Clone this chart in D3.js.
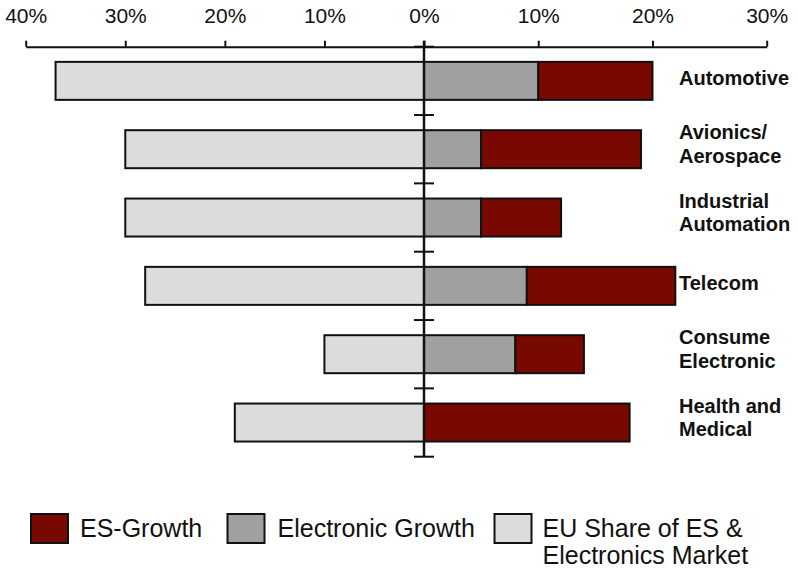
<!DOCTYPE html>
<html>
<head>
<meta charset="utf-8">
<script src="https://cdn.jsdelivr.net/npm/d3@7/dist/d3.min.js"></script>
<style>
  html, body { margin: 0; padding: 0; background: #fff; }
  svg { display: block; font-family: "Liberation Sans", Arial, Helvetica, sans-serif; }
</style>
</head>
<body>
<svg id="chart" width="798" height="569"></svg>
<script>
// ---- data ----
const categories = ["Automotive", "Avionics/\nAerospace", "Industrial\nAutomation", "Telecom", "Consume\nElectronic", "Health and\nMedical"];
const euShare = [37, 30, 30, 28, 10, 19];          // left side (%)
const electronicGrowth = [10, 5, 5, 9, 8, 0];      // right side, first segment (%)
const esGrowth = [10, 14, 7, 13, 6, 18];           // right side, stacked on top (%)
const leftTicks = [40, 30, 20, 10];
const rightTicks = [0, 10, 20, 30];
const legendLabels = ["ES-Growth", "Electronic Growth", "EU Share of ES &\nElectronics Market"];

const colors = { es: "#780800", el: "#a0a0a0", eu: "#dcdcdc" };

const svg = d3.select("#chart");

// scales
const xLeft = d3.scaleLinear().domain([40, 0]).range([25.7, 424]);
const xRight = d3.scaleLinear().domain([0, 30]).range([424, 766.7]);
const y = d3.scaleBand().domain(d3.range(categories.length))
  .range([46.7, 456.7]).paddingInner(0.444).paddingOuter(0.222);

const rows = categories.map((c, i) => ({ c, i, eu: euShare[i], el: electronicGrowth[i], es: esGrowth[i] }));

// bars
const g = svg.append("g");
g.selectAll("rect.eu").data(rows).join("rect").attr("class", "eu")
  .attr("x", d => xLeft(d.eu)).attr("width", d => xLeft(0) - xLeft(d.eu))
  .attr("y", d => y(d.i)).attr("height", y.bandwidth())
  .attr("fill", colors.eu).attr("stroke", "#111").attr("stroke-width", 2);
g.selectAll("rect.el").data(rows.filter(d => d.el > 0)).join("rect").attr("class", "el")
  .attr("x", d => xRight(0)).attr("width", d => xRight(d.el) - xRight(0))
  .attr("y", d => y(d.i)).attr("height", y.bandwidth())
  .attr("fill", colors.el).attr("stroke", "#111").attr("stroke-width", 2);
g.selectAll("rect.es").data(rows).join("rect").attr("class", "es")
  .attr("x", d => xRight(d.el)).attr("width", d => xRight(d.el + d.es) - xRight(d.el))
  .attr("y", d => y(d.i)).attr("height", y.bandwidth())
  .attr("fill", colors.es).attr("stroke", "#111").attr("stroke-width", 2);

// top axes
const axisY = 46.7;
const fmt = d => d + "%";
const axL = svg.append("g").attr("transform", `translate(0,${axisY})`)
  .call(d3.axisTop(xLeft).tickValues(leftTicks).tickFormat(fmt).tickSize(6).tickSizeOuter(0).tickPadding(17.4));
const axR = svg.append("g").attr("transform", `translate(0,${axisY})`)
  .call(d3.axisTop(xRight).tickValues(rightTicks).tickFormat(fmt).tickSize(6).tickSizeOuter(0).tickPadding(17.4));
[axL, axR].forEach(a => {
  a.select(".domain").attr("stroke", "#111").attr("stroke-width", 2);
  a.selectAll(".tick line").attr("stroke", "#111").attr("stroke-width", 2);
  a.selectAll(".tick text").attr("fill", "#111").style("font-size", "21px")
    .style("font-family", "'Liberation Sans', Arial, sans-serif");
});

// vertical axis at 0 with ticks at band boundaries
const x0 = xRight(0);
const step = y.step();
const gap = step - y.bandwidth();
const boundaries = d3.range(categories.length).map(i => y(i) - gap / 2).concat([y(categories.length - 1) + y.bandwidth() + gap / 2]);
svg.append("line").attr("x1", x0).attr("x2", x0)
  .attr("y1", axisY - 6).attr("y2", boundaries[boundaries.length - 1])
  .attr("stroke", "#111").attr("stroke-width", 2.5);
svg.selectAll("line.vt").data(boundaries).join("line").attr("class", "vt")
  .attr("x1", x0 - 10).attr("x2", x0 + 10).attr("y1", d => d).attr("y2", d => d)
  .attr("stroke", "#111").attr("stroke-width", 2);

// category labels
const lab = svg.selectAll("text.cat").data(rows).join("text").attr("class", "cat")
  .attr("x", 679)
  .attr("y", d => y(d.i) + y.bandwidth() / 2)
  .style("font-size", "20px").style("font-weight", "bold").attr("fill", "#111");
lab.each(function(d) {
  const lines = d.c.split("\n");
  const t = d3.select(this);
  const lh = 23.4;
  const first = lines.length === 1 ? 4.5 : -10;
  lines.forEach((ln, k) => {
    t.append("tspan").attr("x", 679)
      .attr("dy", k === 0 ? first : lh)
      .text(ln);
  });
});

// legend
const legendItems = [
  { label: legendLabels[0], color: colors.es, x: 31, tx: 80 },
  { label: legendLabels[1], color: colors.el, x: 227.5, tx: 277.5 },
  { label: legendLabels[2], color: colors.eu, x: 494.5, tx: 542.5 }
];
const lg = svg.append("g");
lg.selectAll("rect").data(legendItems).join("rect")
  .attr("x", d => d.x).attr("y", 514).attr("width", 37).attr("height", 29)
  .attr("fill", d => d.color).attr("stroke", "#111").attr("stroke-width", 2);
lg.selectAll("text").data(legendItems).join("text")
  .attr("x", d => d.tx).attr("y", 537)
  .style("font-size", "25px").attr("fill", "#111")
  .each(function(d) {
    const t = d3.select(this);
    d.label.split("\n").forEach((ln, k) => {
      t.append("tspan").attr("x", d.tx).attr("dy", k === 0 ? 0 : 27).text(ln);
    });
  });
</script>
</body>
</html>
